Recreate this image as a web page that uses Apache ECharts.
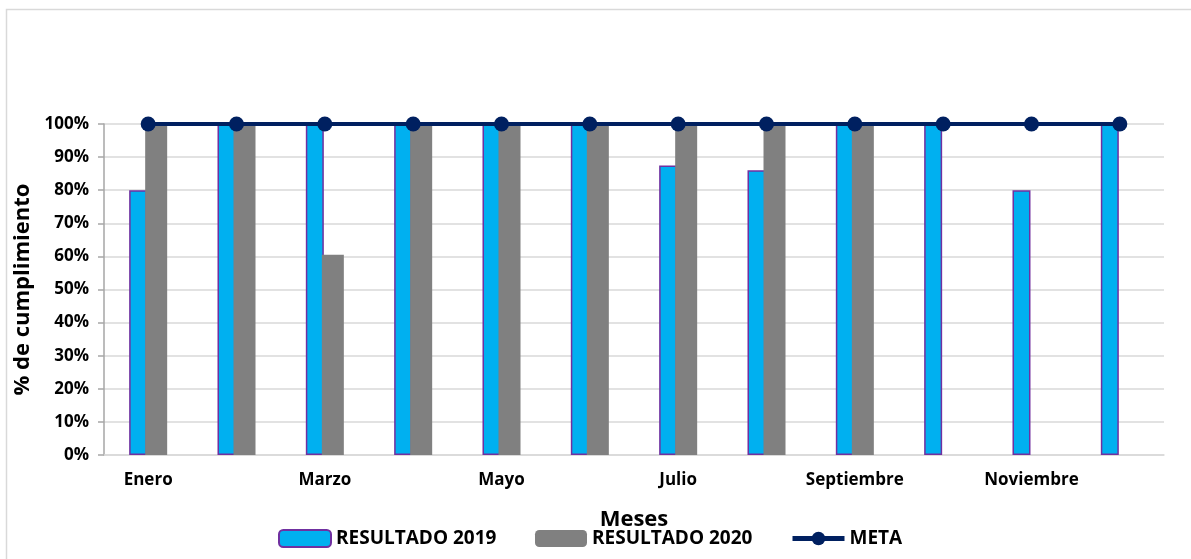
<!DOCTYPE html>
<html>
<head>
<meta charset="utf-8">
<script src="https://cdn.jsdelivr.net/npm/echarts@6/dist/echarts.min.js"></script>
<style>
  html, body { margin: 0; padding: 0; background: #fff; }
  #chart { width: 1191px; height: 559px; }
</style>
</head>
<body>
<div id="chart"></div>
<script>
// Months on the category axis
const meses = ['Enero', 'Febrero', 'Marzo', 'Abril', 'Mayo', 'Junio', 'Julio', 'Agosto', 'Septiembre', 'Octubre', 'Noviembre', 'Diciembre'];
// Compliance results (%)
const resultado2019 = [80, 100, 100, 100, 100, 100, 87.5, 86, 100, 100, 80, 100];
const resultado2020 = [100, 100, 60.5, 100, 100, 100, 100, 100, 100, null, null, null];
// Target line
const meta = [100, 100, 100, 100, 100, 100, 100, 100, 100, 100, 100, 100];

const FONT = '"Open Sans", "Noto Sans", sans-serif';
const NAVY = '#002060';

const chart = echarts.init(document.getElementById('chart'), null, { renderer: 'canvas' });

const legendBase = {
  top: 529,
  padding: 0,
  itemWidth: 52,
  itemHeight: 17,
  textStyle: { fontFamily: FONT, fontWeight: 'bold', fontSize: 19, color: '#000' }
};

chart.setOption({
  animation: false,
  backgroundColor: '#fff',
  graphic: [{
    type: 'rect',
    shape: { x: 6.5, y: 9.5, width: 1200, height: 600 },
    style: { fill: 'none', stroke: '#D9D9D9', lineWidth: 1.5 },
    silent: true
  }],
  grid: { left: 104, right: 27, top: 124, bottom: 104 },
  legend: [
    Object.assign({ left: 278, data: ['RESULTADO 2019'] }, legendBase),
    Object.assign({ left: 535, data: ['RESULTADO 2020'] }, legendBase),
    Object.assign({
      left: 790,
      data: [{ name: 'META', lineStyle: { width: 5, color: NAVY }, itemStyle: { color: NAVY } }]
    }, legendBase)
  ],
  xAxis: {
    type: 'category',
    data: meses,
    name: 'Meses',
    nameLocation: 'middle',
    nameGap: 54,
    nameTextStyle: { fontFamily: FONT, fontWeight: 'bold', fontSize: 22, color: '#000' },
    axisLine: { lineStyle: { color: '#D9D9D9', width: 1.5 } },
    axisTick: { show: false },
    axisLabel: {
      interval: 1,
      margin: 17,
      fontFamily: FONT, fontWeight: 'bold', fontSize: 17, color: '#000'
    }
  },
  yAxis: {
    type: 'value',
    min: 0,
    max: 100,
    interval: 10,
    name: '% de cumplimiento',
    nameLocation: 'middle',
    nameGap: 63,
    nameTextStyle: { fontFamily: FONT, fontWeight: 'bold', fontSize: 22, color: '#000' },
    axisLine: { show: true, lineStyle: { color: '#A6A6A6', width: 1.5 } },
    axisTick: { show: true, inside: false, length: 6, lineStyle: { color: '#A6A6A6', width: 1.5 } },
    splitLine: { lineStyle: { color: '#D9D9D9', width: 1.5 } },
    axisLabel: {
      margin: 15,
      formatter: '{value}%',
      fontFamily: FONT, fontWeight: 'bold', fontSize: 17, color: '#000'
    }
  },
  series: [
    {
      name: 'RESULTADO 2019',
      type: 'bar',
      data: resultado2019,
      barWidth: 18,
      barGap: '-11%',
      itemStyle: { color: '#00B0F0', borderColor: '#7030A0', borderWidth: 1.5 }
    },
    {
      name: 'RESULTADO 2020',
      type: 'bar',
      data: resultado2020,
      barWidth: 22,
      barGap: '-11%',
      itemStyle: { color: '#808080' }
    },
    {
      name: 'META',
      type: 'line',
      data: meta,
      symbol: 'circle',
      symbolSize: 15,
      z: 5,
      lineStyle: { color: NAVY, width: 4 },
      itemStyle: { color: NAVY }
    }
  ]
});
</script>
</body>
</html>
